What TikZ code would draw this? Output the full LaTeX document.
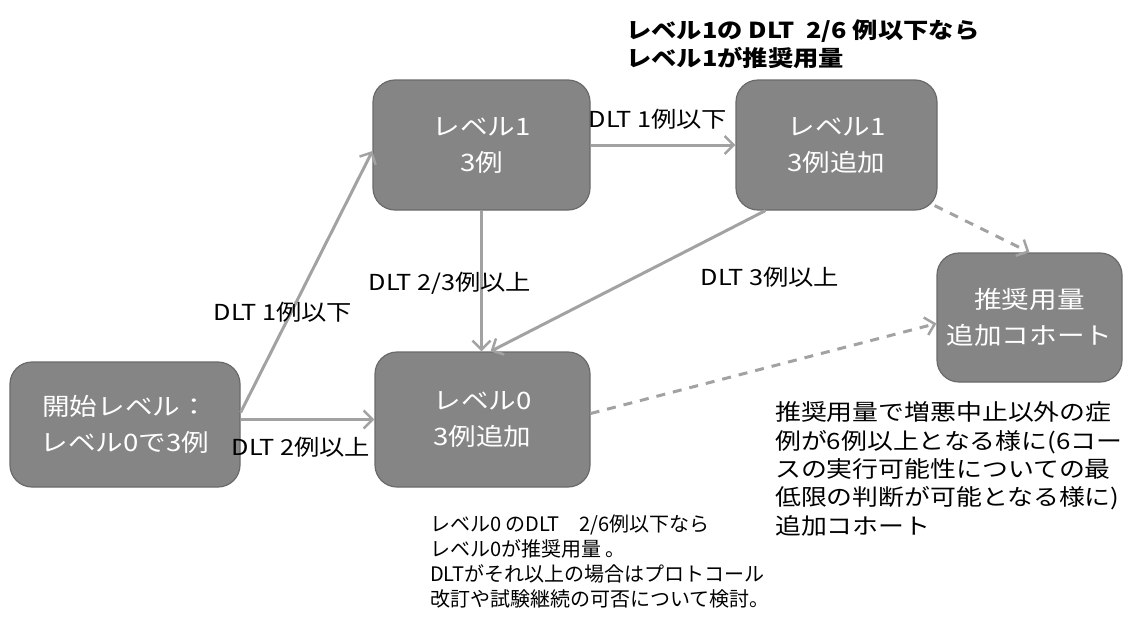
\documentclass[tikz,border=0pt]{standalone}
\usepackage{fontspec}
\setmainfont{Noto Sans CJK JP}
\newfontfamily\jpw[FakeStretch=1.15]{Noto Sans CJK JP}
\usetikzlibrary{arrows.meta}
\definecolor{boxfill}{HTML}{858585}
\definecolor{boxline}{HTML}{6A6A6A}
\definecolor{arrgray}{HTML}{A2A2A2}
\begin{document}
\begin{tikzpicture}[x=1pt,y=-1pt,
 box/.style={draw=boxline, fill=boxfill, rounded corners=22pt, line width=1.2pt, text=white, align=center, font=\jpw\fontsize{24}{36}\selectfont, inner sep=0pt},
 arr/.style={draw=arrgray, line width=3pt, -{Straight Barb[length=9pt,width=18pt,line width=2.5pt]}},
 darr/.style={arr, dash pattern=on 9pt off 8pt},
 lab/.style={font=\jpw\fontsize{22}{26}\selectfont, inner sep=0pt},
 note/.style={align=left, inner sep=0pt, anchor=west}
]
\useasboundingbox (0,0) rectangle (1126,621);

\node[box, minimum width=230pt, minimum height=125pt] (s) at (125,424.5) {開始レベル：\\レベル0で3例};
\node[box, minimum width=217pt, minimum height=130pt] (l1) at (481.5,145) {レベル1\\3例};
\node[box, minimum width=201pt, minimum height=130pt] (l1a) at (836.5,145) {レベル1\\3例追加};
\node[box, minimum width=215pt, minimum height=135pt] (l0) at (482.5,419.5) {レベル0\\3例追加};
\node[box, minimum width=185pt, minimum height=129pt] (rec) at (1029.5,317.5) {推奨用量\\追加コホート};

\draw[arr] ([yshift=12pt]s.east) -- ([yshift=-6pt]l1.west);
\draw[arr] (s.east |- l0.west) -- (l0.west);
\draw[arr] (l1.east) -- (l1a.west);
\draw[arr] (l1.south) -- (l1.south |- l0.north);
\draw[arr] ([xshift=30pt]l1a.south west) -- ([xshift=8pt]l0.north);
\draw[darr] ([xshift=-3pt,yshift=5pt]l1a.south east) -- (rec.north);
\draw[darr] ([yshift=6pt]l0.east) -- ([yshift=-6pt]rec.west);

\node[lab] (e1) at (283,312) {DLT 1例以下};
\node[lab] (e2) at (301,447) {DLT 2例以上};
\node[lab] (e3) at (658,119) {DLT 1例以下};
\node[lab] (e4) at (450,283) {DLT 2/3例以上};
\node[lab] (e5) at (770,277) {DLT 3例以上};

\node[note, font=\jpw\bfseries\fontsize{22}{28}\selectfont] (n1) at (626,44) {レベル1の DLT\ \ 2/6 例以下なら\\レベル1が推奨用量};
\node[note, font=\fontsize{20}{25}\selectfont] (n2) at (430,561) {レベル0 のDLT\quad 2/6例以下なら\\レベル0が推奨用量 。\\DLTがそれ以上の場合はプロトコール\\改訂や試験継続の可否について検討。};
\node[note, font=\jpw\fontsize{22.5}{28.3}\selectfont] (n3) at (775,469) {推奨用量で増悪中止以外の症\\例が6例以上となる様に(6コー\\スの実行可能性についての最\\低限の判断が可能となる様に)\\追加コホート};
\end{tikzpicture}
\end{document}
